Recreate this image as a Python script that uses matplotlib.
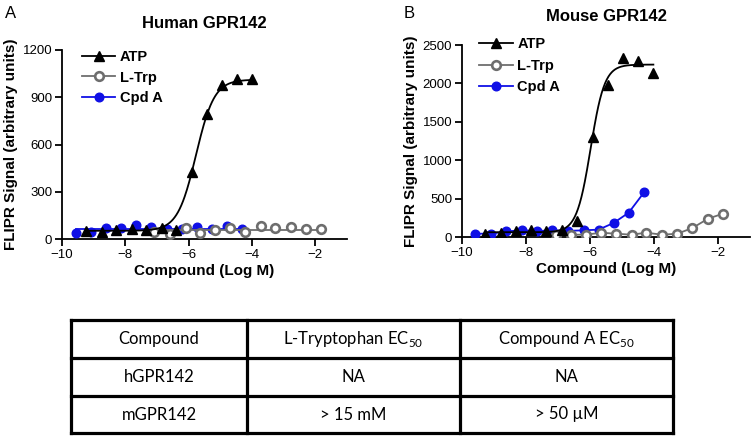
import numpy as np
import matplotlib
matplotlib.use("Agg")
import matplotlib.pyplot as plt
from matplotlib.lines import Line2D

plt.rcParams['font.family'] = ['Liberation Sans', 'DejaVu Sans']
plt.rcParams['mathtext.fontset'] = 'custom'
plt.rcParams['mathtext.rm'] = 'Lato'

# ---------------- data ----------------
# Panel A (Human GPR142)
a_atp_x = [-9.25, -8.75, -8.3, -7.8, -7.35, -6.85, -6.4, -5.9, -5.42, -4.95, -4.47, -4.0]
a_atp_y = [51, 42, 57, 63, 57, 72, 57, 423, 791, 978, 1014, 1018]
a_trp_x = [-7.08, -6.6, -6.1, -5.63, -5.16, -4.68, -4.21, -3.72, -3.26, -2.77, -2.29, -1.82]
a_trp_y = [42, 30, 68, 36, 57, 68, 47, 83, 72, 76, 66, 61]
a_cpd_x = [-9.56, -9.07, -8.61, -8.13, -7.66, -7.18, -6.68, -6.2, -5.74, -5.26, -4.79, -4.32]
a_cpd_y = [36, 42, 72, 68, 89, 76, 65, 62, 76, 66, 83, 61]
# fits (4PL params: bottom, top, logEC50, hill) and flat fits
a_atp_fit = (52, 1012, -5.77, 1.5)
a_trp_flat = 55
a_cpd_flat = 64

# Panel B (Mouse GPR142)
b_atp_x = [-9.27, -8.77, -8.31, -7.83, -7.36, -6.89, -6.4, -5.92, -5.45, -4.96, -4.49, -4.02]
b_atp_y = [43, 52, 74, 87, 74, 87, 204, 1296, 1978, 2326, 2296, 2139]
b_trp_x = [-7.07, -6.6, -6.13, -5.66, -5.19, -4.7, -4.25, -3.74, -3.27, -2.8, -2.31, -1.84]
b_trp_y = [22, 30, 30, 56, 43, 30, 56, 30, 43, 117, 239, 304]
b_cpd_x = [-9.58, -9.08, -8.61, -8.12, -7.65, -7.18, -6.68, -6.2, -5.73, -5.26, -4.79, -4.3]
b_cpd_y = [43, 43, 74, 87, 78, 87, 80, 87, 96, 183, 317, 587]
b_atp_fit = (62, 2245, -5.98, 2.0)

# table
col_labels = ["Compound", "L-Tryptophan EC$_{50}$", "Compound A EC$_{50}$"]
row_data = [["hGPR142", "NA", "NA"],
            ["mGPR142", "> 15 mM", "> 50 \u00b5M"]]

series_labels = ["ATP", "L-Trp", "Cpd A"]

BLUE = "#1010e6"
GRAY = "#6e6e6e"

W, H = 753, 437
fig = plt.figure(figsize=(W / 100, H / 100), dpi=100)


def px_axes(l, r, t, b):
    return fig.add_axes([l / W, 1 - b / H, (r - l) / W, (b - t) / H])


def fourpl(x, p):
    bot, top, ec, h = p
    return bot + (top - bot) / (1 + 10 ** ((ec - x) * h))


def style(ax, ymax, yticks):
    ax.set_xlim(-10, -1)
    ax.set_ylim(0, ymax)
    ax.set_xticks([-10, -8, -6, -4, -2])
    ax.set_yticks(yticks)
    for s in ["top", "right"]:
        ax.spines[s].set_visible(False)
    for s in ["left", "bottom"]:
        ax.spines[s].set_linewidth(1.3)
    ax.tick_params(direction="out", length=5, width=1.3, labelsize=9.5, pad=2)
    ax.set_xlabel("Compound (Log M)", fontsize=11, fontweight="bold", labelpad=2)
    ax.set_ylabel("FLIPR Signal (arbitrary units)", fontsize=11, fontweight="bold", labelpad=3)


mk_atp = dict(marker="^", color="black", markersize=6.5, linestyle="none")
mk_trp = dict(marker="o", markerfacecolor="white", markeredgecolor=GRAY,
              markeredgewidth=1.9, markersize=6.2, linestyle="none")
mk_cpd = dict(marker="o", color=BLUE, markersize=6.2, linestyle="none")

# ---------- Panel A ----------
axA = px_axes(62, 347, 50, 239)
style(axA, 1200, [0, 300, 600, 900, 1200])
axA.plot([min(a_cpd_x), max(a_cpd_x)], [a_cpd_flat] * 2, color=BLUE, lw=1.3, zorder=2)
axA.plot(a_cpd_x, a_cpd_y, **mk_cpd, zorder=3)
axA.plot([min(a_trp_x), max(a_trp_x)], [a_trp_flat] * 2, color=GRAY, lw=1.3, zorder=4)
axA.plot(a_trp_x, a_trp_y, **mk_trp, zorder=5)
xf = np.linspace(min(a_atp_x), max(a_atp_x), 300)
axA.plot(xf, fourpl(xf, a_atp_fit), color="black", lw=1.3, zorder=6)
axA.plot(a_atp_x, a_atp_y, **mk_atp, zorder=7)
axA.set_title("Human GPR142", fontsize=12, fontweight="bold", pad=16)

# ---------- Panel B ----------
axB = px_axes(462, 750, 45, 237)
style(axB, 2500, [0, 500, 1000, 1500, 2000, 2500])
axB.plot(b_cpd_x, b_cpd_y, color=BLUE, lw=1.3, zorder=2)
axB.plot(b_cpd_x, b_cpd_y, **mk_cpd, zorder=3)
axB.plot(b_trp_x, b_trp_y, color=GRAY, lw=1.3, zorder=4)
axB.plot(b_trp_x, b_trp_y, **mk_trp, zorder=5)
xf = np.linspace(min(b_atp_x), max(b_atp_x), 300)
axB.plot(xf, fourpl(xf, b_atp_fit), color="black", lw=1.3, zorder=6)
axB.plot(b_atp_x, b_atp_y, **mk_atp, zorder=7)
axB.set_title("Mouse GPR142", fontsize=12, fontweight="bold", pad=17)

# legends
for ax, anchor, sp in [(axA, (0.07, 1.0), 0.45), (axB, (0.06, 1.04), 0.5)]:
    handles = [Line2D([], [], color="black", lw=1.3, marker="^", markersize=6.5),
               Line2D([], [], color=GRAY, lw=1.3, marker="o", markerfacecolor="white",
                      markeredgecolor=GRAY, markeredgewidth=1.9, markersize=6.2),
               Line2D([], [], color=BLUE, lw=1.3, marker="o", markersize=6.2)]
    ax.legend(handles, series_labels, loc="upper left", bbox_to_anchor=anchor,
              frameon=False, handlelength=2.3, handletextpad=0.3, labelspacing=sp,
              borderpad=0, borderaxespad=0,
              prop={"family": "Liberation Sans", "weight": "bold", "size": 10.5})

fig.text(5 / W, 1 - 14 / H, "A", fontsize=12, va="center", ha="left")
fig.text(404 / W, 1 - 14 / H, "B", fontsize=12, va="center", ha="left")

# ---------- Table ----------
tab = fig.add_axes([0, 0, 1, 1])
tab.set_xlim(0, W)
tab.set_ylim(H, 0)
tab.axis("off")
xs = [71, 247, 460, 673]
ys = [320, 358, 396, 433]
for x in xs:
    tab.plot([x, x], [ys[0], ys[-1]], color="black", lw=2.3, solid_capstyle="projecting")
for y in ys:
    tab.plot([xs[0], xs[-1]], [y, y], color="black", lw=2.3, solid_capstyle="projecting")
rows = [col_labels] + row_data
for i, row in enumerate(rows):
    yc = (ys[i] + ys[i + 1]) / 2
    for j, txt in enumerate(row):
        xc = (xs[j] + xs[j + 1]) / 2
        tab.text(xc, yc, txt, ha="center", va="center", fontsize=12, family="Lato")

fig.savefig("out.png", dpi=100)
